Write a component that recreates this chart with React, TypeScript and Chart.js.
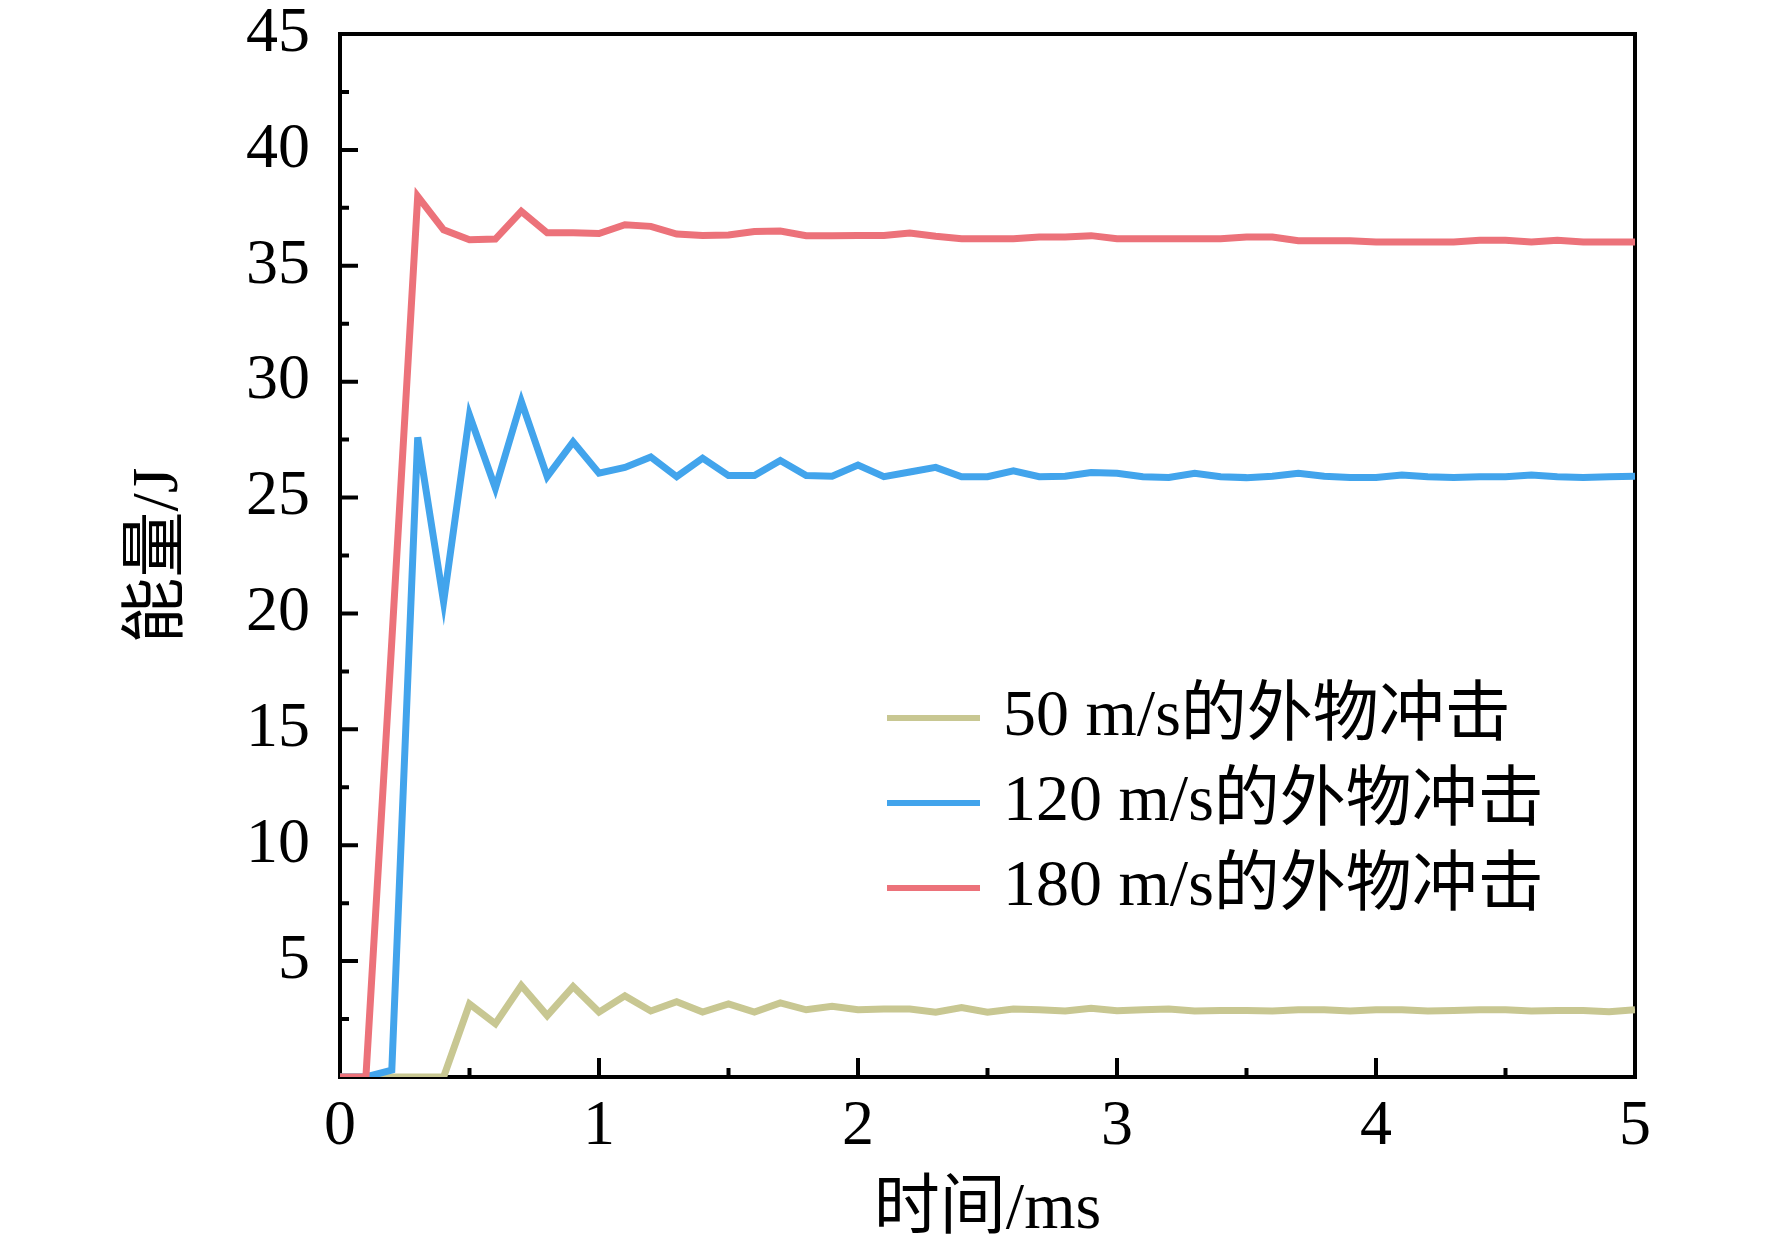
import { useEffect, useRef } from 'react';
import { Chart, registerables, Plugin } from 'chart.js';

Chart.register(...registerables);

// time in ms, sampled every 0.1 ms
const times = [
  0, 0.1, 0.2, 0.3, 0.4, 0.5, 0.6, 0.7, 0.8, 0.9,
  1.0, 1.1, 1.2, 1.3, 1.4, 1.5, 1.6, 1.7, 1.8, 1.9,
  2.0, 2.1, 2.2, 2.3, 2.4, 2.5, 2.6, 2.7, 2.8, 2.9,
  3.0, 3.1, 3.2, 3.3, 3.4, 3.5, 3.6, 3.7, 3.8, 3.9,
  4.0, 4.1, 4.2, 4.3, 4.4, 4.5, 4.6, 4.7, 4.8, 4.9,
  5.0,
];

const energy50 = [
  0, 0, 0, 0, 0, 3.15, 2.3, 3.95, 2.65, 3.9,
  2.8, 3.5, 2.85, 3.25, 2.8, 3.15, 2.8, 3.2, 2.9, 3.05,
  2.9, 2.93, 2.93, 2.8, 3.0, 2.8, 2.93, 2.9, 2.85, 2.97,
  2.86, 2.9, 2.93, 2.85, 2.87, 2.87, 2.85, 2.9, 2.9, 2.85,
  2.9, 2.9, 2.85, 2.87, 2.9, 2.9, 2.85, 2.87, 2.87, 2.82,
  2.9,
];

const energy120 = [
  0, 0, 0.3, 27.6, 20.5, 28.55, 25.4, 29.15, 25.9, 27.4,
  26.05, 26.3, 26.75, 25.9, 26.7, 25.95, 25.95, 26.6, 25.95, 25.92,
  26.4, 25.9, 26.1, 26.3, 25.9, 25.9, 26.15, 25.9, 25.92, 26.08,
  26.05, 25.9, 25.87, 26.05, 25.9, 25.86, 25.92, 26.05, 25.92, 25.87,
  25.87, 25.97, 25.9, 25.86, 25.9, 25.9, 25.97, 25.9, 25.86, 25.9,
  25.92,
];

const energy180 = [
  0, 0, 18.8, 38.0, 36.55, 36.12, 36.15, 37.35, 36.42, 36.42,
  36.39, 36.77, 36.7, 36.37, 36.31, 36.33, 36.48, 36.5, 36.3, 36.3,
  36.31, 36.31, 36.41, 36.27, 36.17, 36.17, 36.17, 36.24, 36.24, 36.3,
  36.17, 36.17, 36.17, 36.17, 36.17, 36.24, 36.24, 36.08, 36.08, 36.08,
  36.03, 36.03, 36.03, 36.03, 36.1, 36.1, 36.03, 36.1, 36.03, 36.03,
  36.03,
];

const seriesLabels = ['50 m/s的外物冲击', '120 m/s的外物冲击', '180 m/s的外物冲击'];
const seriesColors = ['rgb(200, 199, 146)', 'rgb(66, 164, 236)', 'rgb(236, 114, 122)'];

const FONT = "'Liberation Serif', 'Noto Sans CJK SC', serif";

const toPoints = (vals: number[]) => times.map((t, i) => ({ x: t, y: vals[i] }));

// box + inward ticks, drawn under the lines
const framePlugin: Plugin<'line'> = {
  id: 'frame',
  beforeDatasetsDraw(chart) {
    const { ctx, chartArea } = chart;
    const { left, top, right, bottom } = chartArea;
    const xs = chart.scales.x;
    const ys = chart.scales.y;
    ctx.save();
    ctx.strokeStyle = '#000';
    ctx.lineWidth = 4;
    ctx.beginPath();
    xs.ticks.forEach((tk, i) => {
      const px = xs.getPixelForValue(tk.value);
      ctx.moveTo(px, bottom);
      ctx.lineTo(px, bottom - 19);
      if (i < xs.ticks.length - 1) {
        const mid = xs.getPixelForValue((tk.value + xs.ticks[i + 1].value) / 2);
        ctx.moveTo(mid, bottom);
        ctx.lineTo(mid, bottom - 9);
      }
    });
    ys.ticks.forEach((tk, i) => {
      const py = ys.getPixelForValue(tk.value);
      ctx.moveTo(left, py);
      ctx.lineTo(left + 18, py);
      if (i < ys.ticks.length - 1) {
        const mid = ys.getPixelForValue((tk.value + ys.ticks[i + 1].value) / 2);
        ctx.moveTo(left, mid);
        ctx.lineTo(left + 9, mid);
      }
    });
    ctx.stroke();
    ctx.strokeRect(left, top, right - left, bottom - top);
    ctx.restore();
  },
};

const legendPlugin: Plugin<'line'> = {
  id: 'innerLegend',
  afterDraw(chart) {
    const { ctx } = chart;
    ctx.save();
    ctx.font = `66px ${FONT}`;
    ctx.textBaseline = 'middle';
    ctx.textAlign = 'left';
    chart.data.datasets.forEach((ds, i) => {
      const y = 718 + i * 85;
      ctx.strokeStyle = ds.borderColor as string;
      ctx.lineWidth = 6;
      ctx.beginPath();
      ctx.moveTo(887, y);
      ctx.lineTo(980, y);
      ctx.stroke();
      ctx.fillStyle = '#000';
      ctx.fillText(ds.label ?? '', 1003, y);
    });
    ctx.restore();
  },
};

export default function App() {
  const canvasRef = useRef<HTMLCanvasElement>(null);
  const chartRef = useRef<Chart<'line'> | null>(null);

  useEffect(() => {
    document.body.style.margin = '0';
    if (!canvasRef.current) return;
    const ctx = canvasRef.current.getContext('2d');
    if (!ctx) return;
    if (chartRef.current) chartRef.current.destroy();

    const seriesValues = [energy50, energy120, energy180];

    chartRef.current = new Chart(ctx, {
      type: 'line',
      data: {
        datasets: seriesValues.map((vals, i) => ({
          label: seriesLabels[i],
          data: toPoints(vals),
          borderColor: seriesColors[i],
          backgroundColor: seriesColors[i],
          borderWidth: 7,
          pointRadius: 0,
          tension: 0,
          fill: false,
          order: 2 - i,
        })),
      },
      options: {
        responsive: false,
        animation: false,
        layout: { padding: { left: 0, top: 34, right: 137, bottom: 0 } },
        plugins: {
          legend: { display: false },
          tooltip: { enabled: false },
        },
        scales: {
          x: {
            type: 'linear',
            min: 0,
            max: 5,
            grid: { display: false, drawTicks: false },
            border: { display: false },
            ticks: {
              stepSize: 1,
              padding: 12,
              color: '#000',
              font: { family: FONT, size: 64 },
              maxRotation: 0,
            },
            title: {
              display: true,
              text: '时间/ms',
              color: '#000',
              font: { family: FONT, size: 66 },
              padding: { top: 0, bottom: 1 },
            },
            afterFit(scale) {
              scale.height = 174;
              scale.paddingLeft = 0;
              scale.paddingRight = 0;
            },
          },
          y: {
            type: 'linear',
            min: 0,
            max: 45,
            grid: { display: false, drawTicks: false },
            border: { display: false },
            ticks: {
              stepSize: 5,
              padding: 30,
              color: '#000',
              font: { family: FONT, size: 64 },
              callback: (v) => (Number(v) === 0 ? '' : String(v)),
            },
            title: {
              display: true,
              text: '能量/J',
              color: '#000',
              font: { family: FONT, size: 66 },
              padding: { top: 120, bottom: 0 },
            },
            afterFit(scale) {
              scale.width = 340;
              scale.paddingTop = 0;
              scale.paddingBottom = 0;
            },
          },
        },
      },
      plugins: [framePlugin, legendPlugin],
    });

    return () => {
      if (chartRef.current) {
        chartRef.current.destroy();
        chartRef.current = null;
      }
    };
  }, []);

  return (
    <div style={{ width: 1772, height: 1251, background: '#fff' }}>
      <canvas ref={canvasRef} width={1772} height={1251} />
    </div>
  );
}
